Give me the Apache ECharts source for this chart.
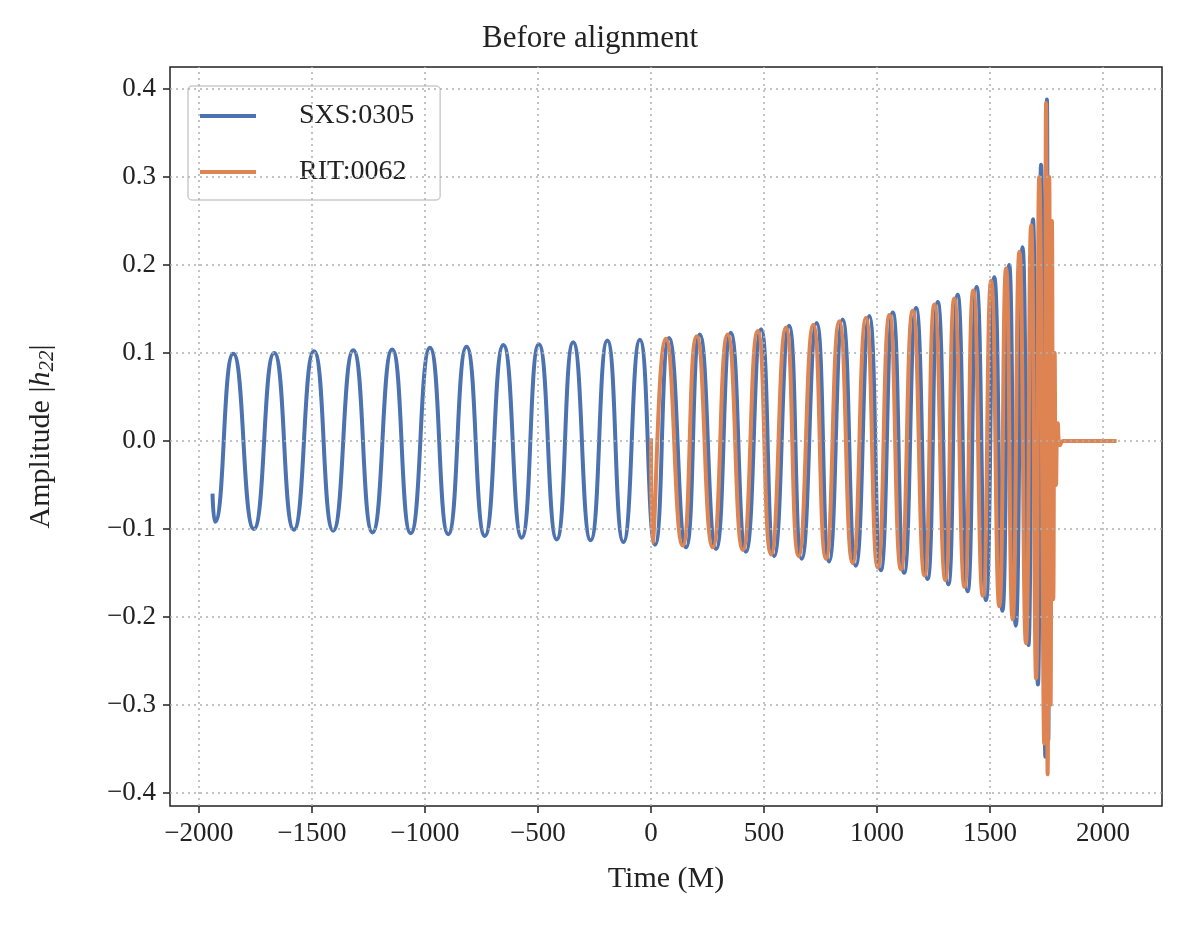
<!DOCTYPE html>
<html>
<head>
<meta charset="utf-8">
<script src="https://cdn.jsdelivr.net/npm/echarts@6/dist/echarts.min.js"></script>
<style>html,body{margin:0;background:#fff}#chart{width:1180px;height:940px}</style>
</head>
<body>
<div id="chart"></div>
<script>
// extrema: [time (M), amplitude]
var sxsPoints = [
  [-1940,-0.060],[-1929,-0.092],[-1848,0.099],[-1757,-0.100],[-1667,0.100],[-1580,-0.101],
  [-1491,0.102],[-1406,-0.102],[-1317,0.103],[-1232,-0.104],[-1145,0.104],[-1063,-0.105],
  [-978,0.106],[-897,-0.106],[-816,0.107],[-735,-0.108],[-653,0.109],[-572,-0.110],
  [-496,0.110],[-417,-0.112],[-344,0.112],[-267,-0.113],[-193,0.114],[-122,-0.115],
  [-49,0.115],[18,-0.118],[80,0.117],[155,-0.121],[216,0.121],[288,-0.123],[353,0.123],
  [420,-0.126],[487,0.127],[545,-0.131],[611,0.131],[667,-0.134],[733,0.134],[788,-0.137],
  [848,0.138],[906,-0.142],[966,0.142],[1017,-0.147],[1070,0.146],[1120,-0.150],[1173,0.151],
  [1224,-0.157],[1269,0.158],[1316,-0.163],[1357,0.166],[1401,-0.171],[1441,0.175],
  [1482,-0.181],[1519,0.186],[1555,-0.193],[1585,0.200],[1614,-0.210],[1644,0.220],
  [1670,-0.232],[1690,0.252],[1712,-0.277],[1726,0.314],[1745,-0.359],[1752,0.388],
  [1758,-0.340],[1765,0.200],[1772,-0.100],[1780,0.040],[1790,-0.010],[1800,0.000]
];
var ritPoints = [
  [0,0.003],[7,-0.116],[66,0.116],[140,-0.119],[202,0.119],[273,-0.121],[339,0.121],
  [406,-0.124],[472,0.125],[531,-0.129],[597,0.129],[653,-0.131],[718,0.132],[774,-0.134],
  [833,0.136],[892,-0.139],[951,0.140],[1003,-0.144],[1055,0.143],[1106,-0.146],[1158,0.148],
  [1210,-0.153],[1254,0.155],[1302,-0.158],[1342,0.162],[1387,-0.166],[1426,0.171],
  [1468,-0.176],[1505,0.182],[1541,-0.188],[1571,0.196],[1600,-0.203],[1630,0.215],
  [1659,-0.230],[1682,0.245],[1704,-0.270],[1718,0.300],[1740,-0.344],[1748,0.384],
  [1755,-0.379],[1762,0.300],[1768,-0.300],[1774,0.250],[1780,-0.180],[1786,0.100],
  [1792,-0.050],[1800,0.020],[1810,-0.005],[1825,0.000],[2060,0.000]
];
var xTicks = [-2000,-1500,-1000,-500,0,500,1000,1500,2000];
var yTicks = [-0.4,-0.3,-0.2,-0.1,0.0,0.1,0.2,0.3,0.4];

var font = 'Liberation Serif';
var fmtMinus = function(s){ return String(s).replace('-', '\u2212'); };
var chart = echarts.init(document.getElementById('chart'));
chart.setOption({
  animation: false,
  textStyle: {fontFamily: font},
  title: {text: 'Before alignment', left: 'center', top: 18,
    textStyle: {fontFamily: font, fontSize: 31, fontWeight: 'normal', color: '#222'}},
  legend: {
    left: 188, top: 86, orient: 'vertical', itemWidth: 56, itemHeight: 4, itemGap: 28,
    padding: [16, 26, 14, 12], borderColor: '#ccc', borderWidth: 1.5, borderRadius: 4,
    textStyle: {fontFamily: font, fontSize: 28, color: '#222', padding: [0, 0, 0, 38]},
    data: [{name: 'SXS:0305', icon: 'rect'}, {name: 'RIT:0062', icon: 'rect'}]
  },
  grid: {left: 170, right: 18, top: 67, bottom: 134, show: true, borderColor: '#222', borderWidth: 1.5},
  xAxis: {
    type: 'value', min: -2128, max: 2261,
    name: 'Time (M)', nameLocation: 'middle', nameGap: 58,
    nameTextStyle: {fontFamily: font, fontSize: 30, color: '#222'},
    axisLine: {show: false, onZero: false},
    axisTick: {show: true, length: 7, inside: false, customValues: xTicks, lineStyle: {color: '#222', width: 1.5}},
    axisLabel: {customValues: xTicks, fontSize: 27, color: '#222', margin: 14, formatter: fmtMinus},
    splitLine: {show: false}
  },
  yAxis: {
    type: 'value', min: -0.415, max: 0.425,
    name: 'Amplitude |{i|h}{s|22}|', nameLocation: 'middle', nameGap: 112,
    nameTextStyle: {fontFamily: font, fontSize: 30, color: '#222',
      rich: {i: {fontFamily: font, fontStyle: 'italic', fontSize: 30, color: '#222'},
             s: {fontFamily: font, fontStyle: 'italic', fontSize: 21, color: '#222', verticalAlign: 'bottom', padding: [12, 0, 0, 0]}}},
    axisLine: {show: false, onZero: false},
    axisTick: {show: true, length: 7, customValues: yTicks, lineStyle: {color: '#222', width: 1.5}},
    axisLabel: {customValues: yTicks, fontSize: 27, color: '#222', margin: 14,
      formatter: function(v){ return fmtMinus(v.toFixed(1)); }},
    splitLine: {show: false}
  },
  series: [
    {name: 'SXS:0305', type: 'line', data: sxsPoints, showSymbol: false, smooth: 0.55,
      lineStyle: {width: 4, color: '#4c72b0'}, itemStyle: {color: '#4c72b0'}, z: 3,
      markLine: {silent: true, symbol: 'none', label: {show: false},
        lineStyle: {color: '#b0b0b0', type: [2, 4], width: 1.5},
        data: xTicks.map(function(v){ return {xAxis: v}; }).concat(yTicks.map(function(v){ return {yAxis: v}; }))}},
    {name: 'RIT:0062', type: 'line', data: ritPoints, showSymbol: false, smooth: 0.55,
      lineStyle: {width: 4, color: '#dd8452'}, itemStyle: {color: '#dd8452'}, z: 4}
  ]
});
</script>
</body>
</html>
